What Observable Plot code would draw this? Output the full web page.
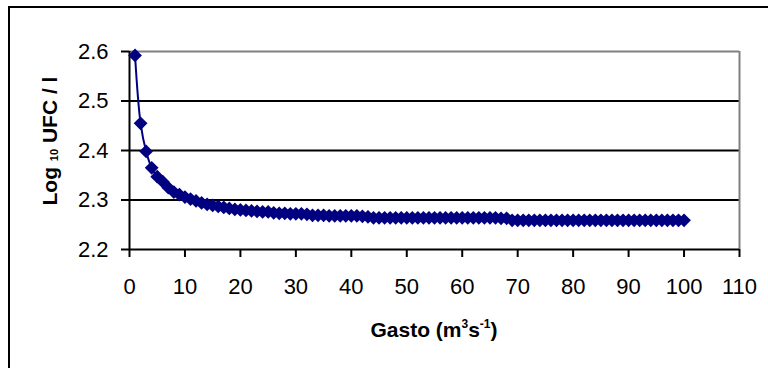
<!DOCTYPE html>
<html>
<head>
<meta charset="utf-8">
<script src="https://cdn.jsdelivr.net/npm/d3@7"></script>
<script src="https://cdn.jsdelivr.net/npm/@observablehq/plot@0.6"></script>
<style>
  html, body { margin: 0; padding: 0; background: #fff; overflow: hidden; }
  #chart svg { display: block; overflow: hidden; }
</style>
</head>
<body>
<div id="chart"></div>
<script>
// Gasto (m3 s-1): 1..100
const gasto = [
  1,2,3,4,5,6,7,8,9,10,11,12,13,14,15,16,17,18,19,20,
  21,22,23,24,25,26,27,28,29,30,31,32,33,34,35,36,37,38,39,40,
  41,42,43,44,45,46,47,48,49,50,51,52,53,54,55,56,57,58,59,60,
  61,62,63,64,65,66,67,68,69,70,71,72,73,74,75,76,77,78,79,80,
  81,82,83,84,85,86,87,88,89,90,91,92,93,94,95,96,97,98,99,100
];
// Log10 UFC / l
const logUFC = [
  2.592,2.455,2.398,2.365,2.347,2.337,2.325,2.316,2.311,2.306,
  2.302,2.298,2.294,2.291,2.289,2.287,2.285,2.283,2.281,2.280,
  2.279,2.278,2.277,2.276,2.276,2.274,2.273,2.273,2.272,2.272,
  2.272,2.271,2.269,2.269,2.269,2.268,2.268,2.268,2.268,2.268,
  2.268,2.267,2.266,2.264,2.264,2.264,2.264,2.264,2.264,2.264,
  2.264,2.264,2.264,2.264,2.264,2.264,2.264,2.264,2.264,2.264,
  2.264,2.264,2.264,2.264,2.264,2.264,2.263,2.263,2.259,2.259,
  2.259,2.259,2.259,2.259,2.259,2.259,2.259,2.259,2.259,2.259,
  2.259,2.259,2.259,2.259,2.259,2.259,2.259,2.259,2.259,2.259,
  2.259,2.259,2.259,2.259,2.259,2.259,2.259,2.259,2.259,2.259
];
const xTicks = [0,10,20,30,40,50,60,70,80,90,100,110];
const yTicks = [2.2,2.3,2.4,2.5,2.6];
const yGrid = [2.3,2.4,2.5];

const data = gasto.map((g, i) => ({x: g, y: logUFC[i]}));

const navy = "#000080";
const font = "'Liberation Sans', Arial, sans-serif";

const plot = Plot.plot({
  width: 768,
  height: 368,
  marginLeft: 129,
  marginRight: 29,
  marginTop: 51,
  marginBottom: 119,
  style: {fontFamily: font, fontSize: "22px", background: "#fff", color: "#000"},
  x: {domain: [0, 110]},
  y: {domain: [2.2, 2.6]},
  marks: [
    Plot.gridY(yGrid, {stroke: "#000", strokeOpacity: 1, strokeWidth: 2}),
    Plot.ruleY([2.6], {stroke: "#808080", strokeWidth: 2}),
    Plot.ruleX([110], {stroke: "#808080", strokeWidth: 2}),
    Plot.ruleY([2.2], {stroke: "#000", strokeWidth: 2}),
    Plot.ruleX([0], {stroke: "#000", strokeWidth: 2}),
    Plot.axisX(xTicks, {tickSize: 8, tickPadding: 21, strokeWidth: 2, label: null, tickFormat: d => String(d), fontSize: 22}),
    Plot.axisY(yTicks, {tickSize: 8, tickPadding: 13, strokeWidth: 2, label: null, tickFormat: d3.format(".1f"), fontSize: 22}),
    Plot.line(data, {x: "x", y: "y", curve: "catmull-rom", stroke: navy, strokeWidth: 2}),
    Plot.dot(data, {x: "x", y: "y", symbol: "diamond2", r: 6.2, fill: navy, stroke: "none"})
  ]
});

const svg = d3.select(plot);
svg.style("overflow", "hidden");

// outer chart-area border
svg.append("rect")
  .attr("x", 9).attr("y", 7)
  .attr("width", 780).attr("height", 400)
  .attr("fill", "none").attr("stroke", "#000").attr("stroke-width", 2);

// x-axis title
const xt = svg.append("text")
  .attr("x", 434).attr("y", 337)
  .attr("text-anchor", "middle")
  .attr("font-family", font).attr("font-weight", "bold").attr("font-size", 21)
  .attr("fill", "#000");
xt.append("tspan").text("Gasto (m");
xt.append("tspan").attr("font-size", 12).attr("dy", -9).text("3");
xt.append("tspan").attr("dy", 9).text("s");
xt.append("tspan").attr("font-size", 12).attr("dy", -9).text("-1");
xt.append("tspan").attr("dy", 9).text(")");

// y-axis title
const yt = svg.append("text")
  .attr("transform", "translate(57,141) rotate(-90)")
  .attr("text-anchor", "middle")
  .attr("font-family", font).attr("font-weight", "bold").attr("font-size", 21)
  .attr("fill", "#000");
yt.append("tspan").text("Log ");
yt.append("tspan").attr("font-size", 11).attr("dy", 1).text("10");
yt.append("tspan").attr("dy", -1).text(" UFC / l");

document.getElementById("chart").appendChild(plot);
</script>
</body>
</html>
